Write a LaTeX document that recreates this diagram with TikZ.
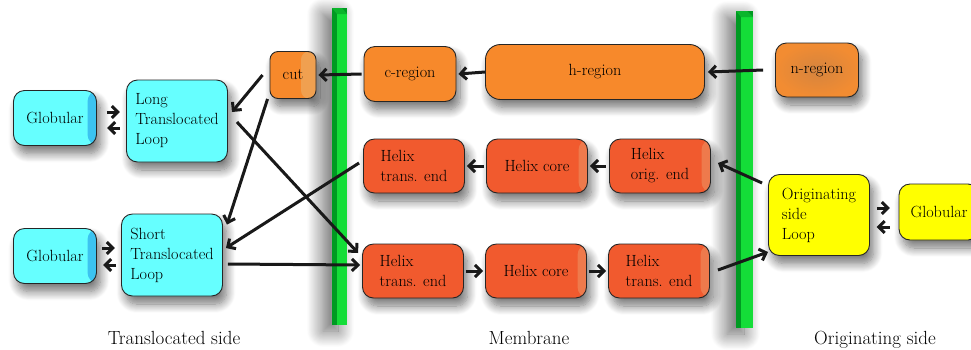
\documentclass[tikz,border=0pt]{standalone}
\usepackage{fontspec}
\usetikzlibrary{arrows.meta,shadows.blur,calc}
\definecolor{cyanbox}{HTML}{66FFFF}
\definecolor{cyanedge}{HTML}{3CC3F0}
\definecolor{orbox}{HTML}{F7892B}
\definecolor{cutedge}{HTML}{F0A050}
\definecolor{helixbox}{HTML}{F15A2E}
\definecolor{helixedge}{HTML}{EE7A4C}
\definecolor{yelbox}{HTML}{FFFF00}
\definecolor{nboxin}{HTML}{D5843E}
\definecolor{nboxout}{HTML}{F28C32}
\definecolor{barfront}{HTML}{14DD38}
\definecolor{barside}{HTML}{009A22}
\definecolor{bartop}{HTML}{0BB52C}
\tikzset{
  box/.style={draw=black!85, line width=0.9pt, rounded corners=11pt, align=left,
    font=\fontsize{16.2}{20}\selectfont, inner sep=0pt,
    blur shadow={shadow xshift=4pt, shadow yshift=-8pt, shadow blur radius=9pt, shadow blur steps=12, shadow opacity=55}},
  stripe/.style={path picture={\fill[#1] ($(path picture bounding box.north east)+(-9pt,0)$) rectangle (path picture bounding box.south east);}},
  widestripe/.style={path picture={\fill[#1] ($(path picture bounding box.north east)+(-15pt,0)$) rectangle (path picture bounding box.south east);}},
  arr/.style={line width=3pt, draw=black!90, -{Straight Barb[length=6pt,width=12pt]}},
  lbl/.style={font=\fontsize{19}{22}\selectfont, anchor=base},
  barshadow/.style={blur shadow={shadow xshift=-9pt, shadow yshift=-6pt, shadow blur radius=16pt, shadow blur steps=24, shadow opacity=60}},
}
\begin{document}
\begin{tikzpicture}[x=1pt,y=-1pt]
\useasboundingbox (0,0) rectangle (971,349);
% membranes
\path[fill=barside, barshadow] (332,8) rectangle (347,325);
\fill[barfront] (337,14) rectangle (347,325);
\fill[bartop] (332,8) -- (342,8) -- (347,14) -- (337,14) -- cycle;
\path[fill=barside, barshadow] (736,11) rectangle (753,328);
\fill[barfront] (741,17) rectangle (753,328);
\fill[bartop] (736,11) -- (747,11) -- (753,17) -- (741,17) -- cycle;

% translocated side
\node[box, fill=cyanbox, stripe=cyanedge, minimum width=83pt, minimum height=55pt] (glob1) at (55,118) {Globular};
\node[box, fill=cyanbox, minimum width=101pt, minimum height=82pt] (ltl) at (177,121) {Long\\Translocated\\Loop};
\node[box, fill=cyanbox, stripe=cyanedge, minimum width=83pt, minimum height=55pt] (glob2) at (55,256) {Globular};
\node[box, fill=cyanbox, minimum width=101pt, minimum height=82pt] (stl) at (172,255) {Short\\Translocated\\Loop};
\node[box, fill=orbox, widestripe=cutedge, rounded corners=8pt, minimum width=46pt, minimum height=47pt] (cut) at (293,75) {cut};

% membrane
\node[box, fill=orbox, minimum width=92pt, minimum height=55pt] (creg) at (410,74) {c-region};
\node[box, fill=orbox, rounded corners=15pt, minimum width=219pt, minimum height=55pt] (hreg) at (595,72) {h-region};
\node[box, fill=helixbox, minimum width=101pt, minimum height=54pt] (h1a) at (414,166) {Helix\\trans. end};
\node[box, fill=helixbox, stripe=helixedge, minimum width=101pt, minimum height=54pt] (h1b) at (537,166) {Helix core};
\node[box, fill=helixbox, stripe=helixedge, minimum width=101pt, minimum height=54pt] (h1c) at (660,166) {Helix\\orig. end};
\node[box, fill=helixbox, minimum width=101pt, minimum height=54pt] (h2a) at (413,271) {Helix\\trans. end};
\node[box, fill=helixbox, stripe=helixedge, minimum width=101pt, minimum height=54pt] (h2b) at (536,271) {Helix core};
\node[box, fill=helixbox, stripe=helixedge, minimum width=101pt, minimum height=54pt] (h2c) at (659,271) {Helix\\trans. end};

% originating side
\node[box, inner color=nboxin, outer color=nboxout, minimum width=83pt, minimum height=54pt] (nreg) at (817,70) {n-region};
\node[box, fill=yelbox, minimum width=101pt, minimum height=81pt] (oloop) at (819,215) {Originating\\side\\Loop};
\node[box, fill=yelbox, minimum width=80pt, minimum height=56pt] (glob3) at (939,212) {Globular};

% labels
\node[lbl] (l1) at (174,344) {Translocated side};
\node[lbl] (l2) at (529,344) {Membrane};
\node[lbl] (l3) at (875,344) {Originating side};

% arrows top row
\draw[arr] ($(nreg.west)+(-12,0)$) -- ($(hreg.east)+(3,0)$);
\draw[arr] (hreg.west) -- ($(creg.east)+(2,0)$);
\draw[arr] ($(creg.west)+(-2,0)$) -- ($(cut.east)+(2,0)$);
% middle row
\draw[arr] ($(h1c.west)+(-3,0)$) -- ($(h1b.east)+(2,0)$);
\draw[arr] ($(h1b.west)+(-2,0)$) -- ($(h1a.east)+(2,0)$);
% bottom row
\draw[arr] ($(h2a.east)+(2,0)$) -- ($(h2b.west)+(-2,0)$);
\draw[arr] ($(h2b.east)+(2,0)$) -- ($(h2c.west)+(-2,0)$);
% crossing connectors
\draw[arr] ($(cut.west)+(-7,0)$) -- ($(ltl.east)+(4,-9)$);
\draw[arr] ($(cut.south west)+(-2,0)$) -- ($(stl.north east)+(4,11)$);
\draw[arr] ($(h1a.west)+(-4,-3)$) -- ($(stl.east)+(3,-7)$);
\draw[arr] ($(ltl.east)+(9,1)$) -- ($(h2a.west)+(-4,-18)$);
\draw[arr] ($(stl.east)+(5,9)$) -- ($(h2a.west)+(-2,-6)$);
% originating side connectors
\draw[arr] ($(oloop.west)+(-6,-32)$) -- ($(h1c.east)+(7,-3)$);
\draw[arr] ($(h2c.east)+(8,-1)$) -- ($(oloop.west)+(0,37)$);
% reversible pairs
\draw[arr] ($(glob1.east)+(10,-6)$) -- ++(13,0);
\draw[arr] ($(ltl.west)+(-6,7)$) -- ++(-13,0);
\draw[arr] ($(glob2.east)+(5,-8)$) -- ++(13,0);
\draw[arr] ($(stl.west)+(-5,10)$) -- ++(-13,0);
\draw[arr] ($(oloop.east)+(7,-7)$) -- ++(13,0);
\draw[arr] ($(glob3.west)+(-9,15)$) -- ++(-13,0);
\end{tikzpicture}
\end{document}
